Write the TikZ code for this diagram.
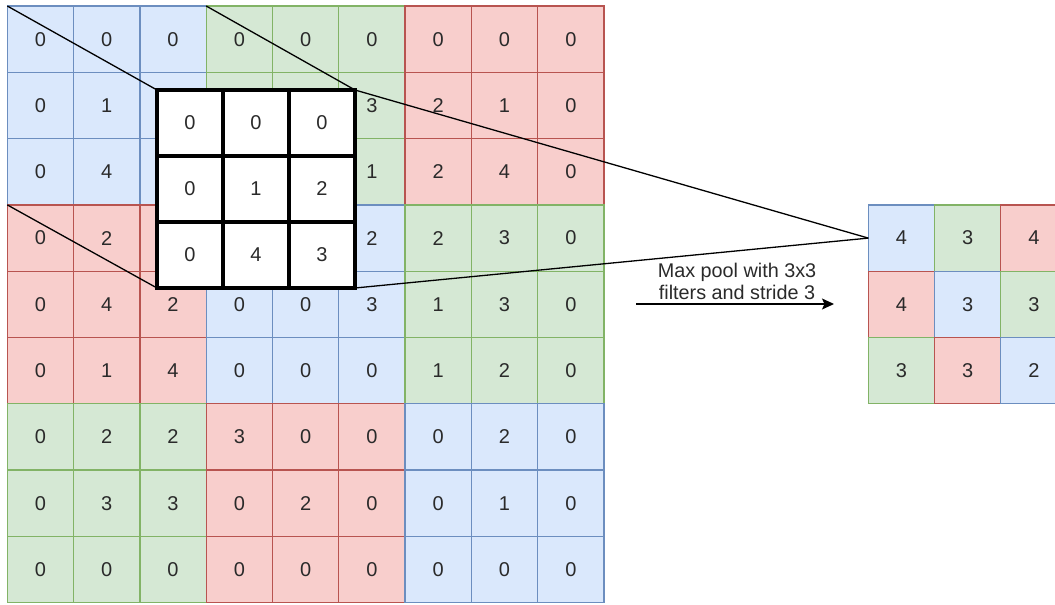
\documentclass[tikz,border=0pt]{standalone}
\usepackage{fontspec}
\setmainfont{Liberation Sans}
\usetikzlibrary{arrows.meta}
\definecolor{bfill}{HTML}{DAE8FC}\definecolor{bdraw}{HTML}{6C8EBF}
\definecolor{gfill}{HTML}{D5E8D4}\definecolor{gdraw}{HTML}{82B366}
\definecolor{rfill}{HTML}{F8CECC}\definecolor{rdraw}{HTML}{B85450}
\definecolor{txt}{HTML}{2A2A2A}
\newcommand\cellval[1]{\if#1-\else#1\fi}
\begin{document}
\begin{tikzpicture}[x=1pt,y=-1pt,
  numtext/.style={font=\fontsize{20}{24}\selectfont, text=txt, inner sep=0pt, outer sep=0pt},
  cellbase/.style={numtext, minimum size=66.3pt, line width=1.3pt},
  cell0/.style={cellbase, fill=bfill, draw=bdraw},
  cell1/.style={cellbase, fill=gfill, draw=gdraw},
  cell2/.style={cellbase, fill=rfill, draw=rdraw},
  ocell/.style={numtext, minimum size=66pt, fill=white, draw=black, line width=4.5pt},
  proj/.style={draw=black, line width=1.3pt, line join=round},
  lbl/.style={font=\fontsize{19.8}{22}\selectfont, text=txt, align=center, inner sep=0pt}
]
\useasboundingbox (0,0) rectangle (1055,605);
\clip (0,0) rectangle (1055,605);
% input 9x9 grid
\foreach \row [count=\r from 0] in {
  {0,0,0,0,0,0,0,0,0},
  {0,1,-,-,-,3,2,1,0},
  {0,4,-,-,-,1,2,4,0},
  {0,2,-,-,-,2,2,3,0},
  {0,4,2,0,0,3,1,3,0},
  {0,1,4,0,0,0,1,2,0},
  {0,2,2,3,0,0,0,2,0},
  {0,3,3,0,2,0,0,1,0},
  {0,0,0,0,0,0,0,0,0}} {
  \foreach \v [count=\c from 0] in \row {
    \pgfmathtruncatemacro\k{mod(floor(\c/3)-floor(\r/3)+3,3)}
    \node[cell\k] (c-\r-\c) at ({7.3+66.3*(\c+0.5)},{6+66.3*(\r+0.5)}) {\cellval{\v}};
  }
}
% output 3x3 grid
\foreach \row [count=\r from 0] in {{4,3,4},{4,3,3},{3,3,2}} {
  \foreach \v [count=\c from 0] in \row {
    \pgfmathtruncatemacro\k{mod(\c-\r+3,3)}
    \node[cell\k, minimum size=66.2pt] (p-\r-\c) at ({868.3+66.2*(\c+0.5)},{205+66.2*(\r+0.5)}) {\v};
  }
}
% overlay 3x3 window positions
\foreach \row [count=\r from 0] in {{0,0,0},{0,1,2},{0,4,3}} {
  \foreach \v [count=\c from 0] in \row {
    \coordinate (oc-\r-\c) at ({157+66*(\c+0.5)},{90+66*(\r+0.5)});
  }
}
% projection lines (under the window)
\path (oc-0-0) ++(-33,-33) coordinate (owTL);
\path (oc-0-2) ++(33,-33) coordinate (owTR);
\path (oc-2-0) ++(-33,33) coordinate (owBL);
\path (oc-2-2) ++(33,33) coordinate (owBR);
\draw[proj] (c-0-0.north west) -- (owTL);
\draw[proj] (c-0-3.north west) -- (owTR) -- (p-0-0.west);
\draw[proj] (c-3-0.north west) -- (owBL);
\draw[proj] (owBR) -- (p-0-0.west);
\foreach \row [count=\r from 0] in {{0,0,0},{0,1,2},{0,4,3}} {
  \foreach \v [count=\c from 0] in \row {
    \node[ocell] (o-\r-\c) at (oc-\r-\c) {\v};
  }
}
% label and arrow
\node[lbl] (label) at (737,281) {Max pool with 3x3\\filters and stride 3};
\coordinate (arrA) at (636,304);
\coordinate (arrB) at (834,304);
\draw[line width=1.3pt, -{Stealth[length=12pt,width=11pt,inset=2.5pt]}] (arrA) -- (arrB);
\end{tikzpicture}
\end{document}
